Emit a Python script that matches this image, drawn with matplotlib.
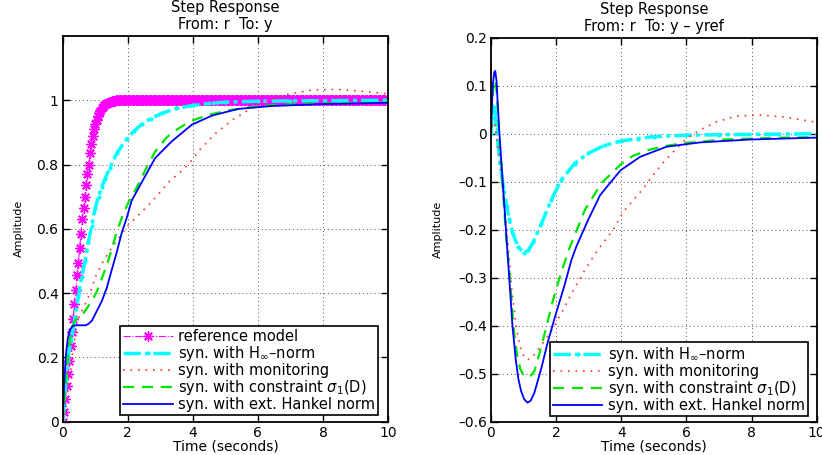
import numpy as np
import matplotlib.pyplot as plt

plt.rcParams['font.family'] = ['DejaVu Sans']
plt.rcParams['font.size'] = 10.5

#%% Step response r -> y

# reference model, sampled every 0.04 s
t_ref = np.round(np.arange(0, 10.001, 0.04), 2)
y_ref_rise = [0.0, 0.03, 0.07, 0.11, 0.15, 0.19, 0.235, 0.28, 0.32, 0.365,
              0.41, 0.455, 0.495, 0.54, 0.585, 0.63, 0.665, 0.70, 0.735, 0.77,
              0.80, 0.835, 0.865, 0.89, 0.91, 0.925, 0.94, 0.95, 0.96, 0.967,
              0.975, 0.98, 0.984, 0.987, 0.99, 0.993, 0.995, 0.996, 0.997, 0.998,
              0.999]
# settled at 1 after ~1.6 s
y_ref = y_ref_rise + [1.0] * (len(t_ref) - len(y_ref_rise))

# H-infinity synthesis
t_hinf = [0, 0.05, 0.1, 0.15, 0.2, 0.25, 0.3, 0.38, 0.48, 0.58, 0.69, 0.79, 0.89, 1.0,
          1.1, 1.2, 1.3, 1.45, 1.66, 1.97, 2.2, 2.43, 2.7, 3.04, 3.5, 4.0, 4.5, 5.0,
          6.0, 7.0, 8.5, 10]
y_hinf = [0, 0.05, 0.13, 0.19, 0.225, 0.25, 0.275, 0.325, 0.39, 0.45, 0.50, 0.56, 0.61,
          0.665, 0.70, 0.73, 0.755, 0.79, 0.835, 0.88, 0.905, 0.925, 0.943, 0.959,
          0.975, 0.984, 0.99, 0.994, 0.997, 0.998, 0.999, 1.0]

# synthesis with monitoring
t_mon = [0, 0.1, 0.2, 0.3, 0.4, 0.5, 0.64, 0.84, 1.0, 1.25, 1.5, 1.75, 2.0, 2.4, 2.7,
         3.0, 3.3, 3.6, 3.9, 4.2, 4.7, 5.2, 5.7, 6.2, 6.8, 7.6, 8.4, 9.1, 10]
y_mon = [0, 0.05, 0.13, 0.21, 0.28, 0.325, 0.355, 0.40, 0.45, 0.50, 0.54, 0.575, 0.61,
         0.65, 0.68, 0.715, 0.75, 0.775, 0.805, 0.845, 0.897, 0.938, 0.969, 0.995,
         1.016, 1.031, 1.034, 1.029, 1.02]

# synthesis with constraint sigma_1(D)
t_sig = [0, 0.05, 0.1, 0.15, 0.2, 0.25, 0.3, 0.35, 0.45, 0.64, 0.89, 1.05, 1.2, 1.35,
         1.51, 1.66, 1.82, 2.02, 2.28, 2.6, 2.84, 3.2, 3.45, 3.92, 4.53, 5.14, 5.7,
         6.32, 6.99, 7.6, 8.5, 10]
y_sig = [0, 0.06, 0.13, 0.19, 0.24, 0.275, 0.295, 0.31, 0.325, 0.338, 0.375, 0.405,
         0.445, 0.486, 0.538, 0.59, 0.636, 0.683, 0.73, 0.795, 0.84, 0.885, 0.905,
         0.935, 0.956, 0.969, 0.978, 0.984, 0.987, 0.989, 0.991, 0.993]

# synthesis with extended Hankel norm
t_hank = [0, 0.03, 0.06, 0.1, 0.15, 0.2, 0.25, 0.3, 0.4, 0.5, 0.6, 0.7, 0.8, 0.9, 1.0,
          1.1, 1.2, 1.35, 1.5, 1.66, 1.82, 1.97, 2.12, 2.43, 2.84, 3.35, 3.97, 4.58,
          5.39, 6.42, 7.95, 10]
y_hank = [0, 0.08, 0.15, 0.21, 0.255, 0.28, 0.29, 0.298, 0.30, 0.30, 0.30, 0.30, 0.305,
          0.315, 0.335, 0.355, 0.375, 0.415, 0.47, 0.527, 0.59, 0.635, 0.688, 0.745,
          0.82, 0.872, 0.924, 0.952, 0.973, 0.982, 0.988, 0.992]

#%% Step response r -> y - yref

te_hinf = [0, 0.04, 0.08, 0.12, 0.17, 0.22, 0.28, 0.38, 0.48, 0.56, 0.67, 0.83, 1.0,
           1.15, 1.3, 1.55, 1.85, 2.16, 2.57, 2.98, 3.49, 4.0, 4.5, 5.0, 6.0, 7.0, 8.5, 10]
e_hinf = [0, 0.045, 0.056, 0.045, 0.01, -0.025, -0.06, -0.11, -0.15, -0.178, -0.208,
          -0.235, -0.248, -0.243, -0.225, -0.187, -0.138, -0.096, -0.062, -0.041,
          -0.024, -0.015, -0.01, -0.006, -0.003, -0.002, -0.001, 0.0]

te_mon = [0, 0.05, 0.1, 0.17, 0.28, 0.38, 0.53, 0.64, 0.79, 0.94, 1.08, 1.2, 1.33, 1.5,
          1.65, 1.9, 2.16, 2.47, 2.88, 3.28, 3.75, 4.06, 4.37, 4.68, 4.98, 5.29, 5.6,
          6.0, 6.42, 6.93, 7.54, 8.28, 9.0, 9.9, 10]
e_mon = [0, 0.02, 0.025, -0.006, -0.06, -0.13, -0.235, -0.326, -0.41, -0.455, -0.47,
         -0.47, -0.46, -0.445, -0.43, -0.406, -0.374, -0.333, -0.284, -0.242, -0.2,
         -0.163, -0.138, -0.114, -0.086, -0.06, -0.038, -0.01, 0.008, 0.025, 0.037,
         0.039, 0.035, 0.025, 0.024]

te_sig = [0, 0.03, 0.06, 0.1, 0.13, 0.17, 0.21, 0.26, 0.36, 0.46, 0.58, 0.7, 0.8, 0.9,
          1.0, 1.12, 1.22, 1.33, 1.48, 1.69, 1.89, 2.15, 2.4, 2.88, 3.39, 3.98, 4.36,
          4.88, 5.39, 6.0, 7.13, 8.0, 9.0, 10]
e_sig = [0, 0.05, 0.09, 0.11, 0.112, 0.09, 0.045, -0.01, -0.11, -0.21, -0.3, -0.41,
         -0.46, -0.49, -0.503, -0.507, -0.504, -0.495, -0.46, -0.405, -0.35, -0.29,
         -0.24, -0.159, -0.103, -0.064, -0.046, -0.033, -0.025, -0.019, -0.012, -0.01,
         -0.008, -0.007]

te_hank = [0, 0.03, 0.06, 0.1, 0.13, 0.17, 0.21, 0.26, 0.31, 0.36, 0.46, 0.56, 0.66,
           0.76, 0.84, 0.92, 1.02, 1.12, 1.22, 1.33, 1.54, 1.74, 1.95, 2.26, 2.47, 2.62,
           2.98, 3.35, 3.65, 3.98, 4.58, 5.39, 6.42, 7.95, 10]
e_hank = [0, 0.06, 0.105, 0.128, 0.131, 0.11, 0.06, 0.0, -0.05, -0.1, -0.2, -0.3, -0.4,
          -0.47, -0.51, -0.535, -0.553, -0.56, -0.556, -0.54, -0.49, -0.435, -0.385,
          -0.315, -0.263, -0.235, -0.18, -0.128, -0.103, -0.076, -0.048, -0.027,
          -0.018, -0.012, -0.008]

labels = ['reference model', 'syn. with H$_\\infty$\u2013norm', 'syn. with monitoring',
          'syn. with constraint $\\sigma_1$(D)', 'syn. with ext. Hankel norm']

# line styles
st_ref = dict(color='#ff00ff', linestyle='-.', linewidth=0.8, marker=(8, 2, 0),
              markersize=7.5, markeredgewidth=1.0)
st_hinf = dict(color='#00ffff', linestyle=(0, (5, 1.2, 1.2, 1.2)), linewidth=2.5,
               marker='.', markersize=4)
st_mon = dict(color='#ff3030', linestyle=(0, (1, 3.5)), linewidth=1.2)
st_sig = dict(color='#00e600', linestyle=(0, (5, 3.5)), linewidth=1.6)
st_hank = dict(color='#0000ff', linestyle='-', linewidth=1.3)


def style_axes(ax, ylabelpad):
    ax.set_xlim(0, 10)
    ax.set_xticks(np.arange(0, 11, 2))
    ax.grid(True, linestyle=(0, (1, 3)), color='#555555', linewidth=0.7)
    ax.tick_params(direction='in', length=5, width=1, top=True, right=True, pad=3,
                   labelsize=10)
    for s in ax.spines.values():
        s.set_linewidth(1.3)
    ax.set_xlabel('Time (seconds)', fontsize=10, labelpad=0)
    ax.set_ylabel('Amplitude', fontsize=8, labelpad=ylabelpad)


def add_legend(ax, anchor):
    leg = ax.legend(loc='lower right', bbox_to_anchor=anchor, borderaxespad=0,
                    fancybox=False, edgecolor='black', framealpha=1, fontsize=10.5,
                    handlelength=3.4, labelspacing=0.0, borderpad=0.2,
                    handletextpad=0.4)
    leg.get_frame().set_linewidth(1.2)


fig = plt.figure(figsize=(8.22, 4.55), dpi=100)

ax1 = fig.add_axes([0.0763, 0.0730, 0.3958, 0.848])
ax1.plot(t_ref, y_ref, label=labels[0], **st_ref)
ax1.plot(t_hinf, y_hinf, label=labels[1], **st_hinf)
ax1.plot(t_mon, y_mon, label=labels[2], **st_mon)
ax1.plot(t_sig, y_sig, label=labels[3], **st_sig)
ax1.plot(t_hank, y_hank, label=labels[4], **st_hank)
ax1.set_ylim(0, 1.2)
ax1.set_yticks(np.arange(0, 1.01, 0.2))
ax1.set_yticklabels(['0', '0.2', '0.4', '0.6', '0.8', '1'])
style_axes(ax1, 9)
ax1.set_title('Step Response\nFrom: r  To: y', fontsize=10.5, pad=5, linespacing=1.15)
add_legend(ax1, (0.970, 0.0176))

ax2 = fig.add_axes([0.5973, 0.0730, 0.3962, 0.844])
ax2.plot(te_hinf, e_hinf, label=labels[1], **st_hinf)
ax2.plot(te_mon, e_mon, label=labels[2], **st_mon)
ax2.plot(te_sig, e_sig, label=labels[3], **st_sig)
ax2.plot(te_hank, e_hank, label=labels[4], **st_hank)
ax2.set_ylim(-0.6, 0.2)
ax2.set_yticks(np.arange(-0.6, 0.21, 0.1))
ax2.set_yticklabels(['\u20130.6', '\u20130.5', '\u20130.4', '\u20130.3', '\u20130.2',
                     '\u20130.1', '0', '0.1', '0.2'])
style_axes(ax2, 11)
ax2.set_title('Step Response\nFrom: r  To: y \u2013 yref', fontsize=10.5, pad=5,
              linespacing=1.15)
add_legend(ax2, (0.974, 0.0148))

fig.savefig('out.png', dpi=100)
